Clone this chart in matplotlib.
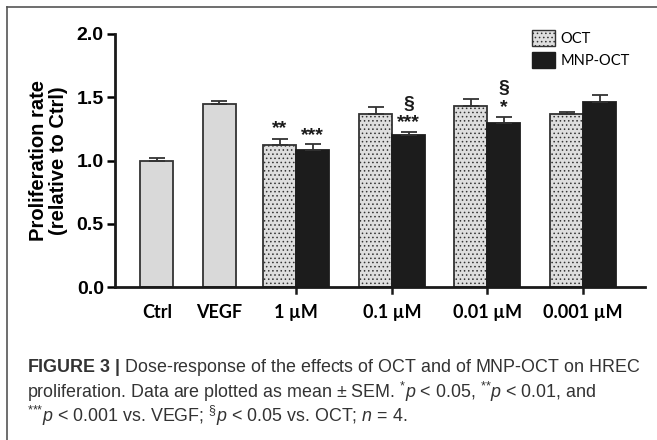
import numpy as np
import matplotlib
matplotlib.use("Agg")
import matplotlib.pyplot as plt
from matplotlib.patches import Patch

# data
ctrl_labels = ["Ctrl", "VEGF"]
ctrl_mean = [1.00, 1.45]
ctrl_sem = [0.018, 0.022]

doses = ["1 µM", "0.1 µM", "0.01 µM", "0.001 µM"]
oct_mean = [1.12, 1.37, 1.43, 1.365]
oct_sem = [0.047, 0.055, 0.057, 0.021]
mnp_mean = [1.085, 1.205, 1.30, 1.465]
mnp_sem = [0.045, 0.019, 0.046, 0.05]

# significance marks above MNP/OCT bars: (group, series, text, y)
marks = [(0, "oct", "**", 1.25), (0, "mnp", "***", 1.20),
         (1, "mnp", "***", 1.30), (1, "mnp", "§", 1.44),
         (2, "mnp", "*", 1.42), (2, "mnp", "§", 1.57)]

plt.rcParams["mathtext.fontset"] = "custom"
plt.rcParams["mathtext.rm"] = "Liberation Sans"
plt.rcParams["mathtext.it"] = "Liberation Sans:italic"
plt.rcParams["mathtext.bf"] = "Liberation Sans:bold"
plt.rcParams["hatch.color"] = "#6a6a6a"
plt.rcParams["hatch.linewidth"] = 0.6

fig = plt.figure(figsize=(6.57, 4.4), dpi=100)
ax = fig.add_axes([0.175, 0.347, 0.807, 0.576])

w = 33
ctrl_x = np.array([42, 104])
grp_x = np.array([181, 277, 372, 468])

ekw = dict(ecolor="#333333", elinewidth=1.3, capsize=6, capthick=1.3)
ax.bar(ctrl_x, ctrl_mean, w, color="#d9d9d9", edgecolor="#333333", linewidth=1.3,
       yerr=[np.zeros(2), ctrl_sem], error_kw=ekw)
ax.bar(grp_x - w / 2, oct_mean, w, color="#dedede", edgecolor="#333333", linewidth=1.3, hatch="....",
       yerr=[np.zeros(4), oct_sem], error_kw=ekw)
ax.bar(grp_x + w / 2, mnp_mean, w, color="#1c1c1c", edgecolor="#1c1c1c", linewidth=1.3,
       yerr=[np.zeros(4), mnp_sem], error_kw=ekw)

for g, s, t, y in marks:
    x = grp_x[g] + (w / 2 if s == "mnp" else -w / 2)
    ax.text(x, y, t, ha="center", va="center", fontsize=14, fontweight="bold",
            family="Liberation Sans", color="#1a1a1a")

ax.set_xlim(0, 530)
ax.set_ylim(0, 2.0)
ax.set_yticks([0, 0.5, 1.0, 1.5, 2.0])
ax.set_yticklabels(["0.0", "0.5", "1.0", "1.5", "2.0"], fontsize=14, fontweight="bold", family="Liberation Sans")
ax.set_xticks(list(ctrl_x) + list(grp_x))
ax.set_xticklabels(ctrl_labels + doses, fontsize=13, fontweight="bold", family="Lato")
ax.tick_params(axis="x", length=0, pad=12)
ax.tick_params(axis="y", length=6, width=1.8, pad=2)
# x ticks only under the dose groups
for gx in grp_x:
    ax.plot([gx, gx], [0, -0.045], color="#1a1a1a", lw=1.8, clip_on=False)

for side in ["top", "right"]:
    ax.spines[side].set_visible(False)
for side in ["left", "bottom"]:
    ax.spines[side].set_linewidth(2)
    ax.spines[side].set_color("#1a1a1a")

ax.set_ylabel("Proliferation rate\n(relative to Ctrl)", fontsize=14.5, fontweight="bold",
              family="Liberation Sans", labelpad=6, linespacing=1.1)

handles = [Patch(facecolor="#dedede", edgecolor="#333333", hatch="....", label="OCT"),
           Patch(facecolor="#1c1c1c", edgecolor="#1c1c1c", label="MNP-OCT")]
ax.legend(handles=handles, loc="upper left", bbox_to_anchor=(0.775, 1.04), frameon=False,
          prop={"family": "Lato", "size": 10.5}, handlelength=1.6, handleheight=1.4,
          handletextpad=0.35, labelspacing=0.35, borderaxespad=0)

# frame lines of the figure panel
fig.add_artist(plt.Line2D([7 / 657, 7 / 657], [0, 1 - 7 / 440], color="#555555", lw=1.2))
fig.add_artist(plt.Line2D([7 / 657, 1], [1 - 7 / 440, 1 - 7 / 440], color="#555555", lw=1.2))

cap_kw = dict(fontsize=12.9, family="Liberation Sans", color="#333333", va="center")
fig.text(27 / 657, 1 - 368 / 440, r"$\bf{FIGURE\ 3\ |}$ Dose-response of the effects of OCT and of MNP-OCT on HREC", **cap_kw)
fig.text(27 / 657, 1 - 392 / 440, r"proliferation. Data are plotted as mean $\pm$ SEM. $^{{*}}\it{p}$ < 0.05, $^{{*}{*}}\it{p}$ < 0.01, and", **cap_kw)
fig.text(27 / 657, 1 - 416 / 440, r"$^{{*}{*}{*}}\it{p}$ < 0.001 vs. VEGF; $^{\S}\it{p}$ < 0.05 vs. OCT; $\it{n}$ = 4.", **cap_kw)

fig.savefig("out.png", dpi=100)
